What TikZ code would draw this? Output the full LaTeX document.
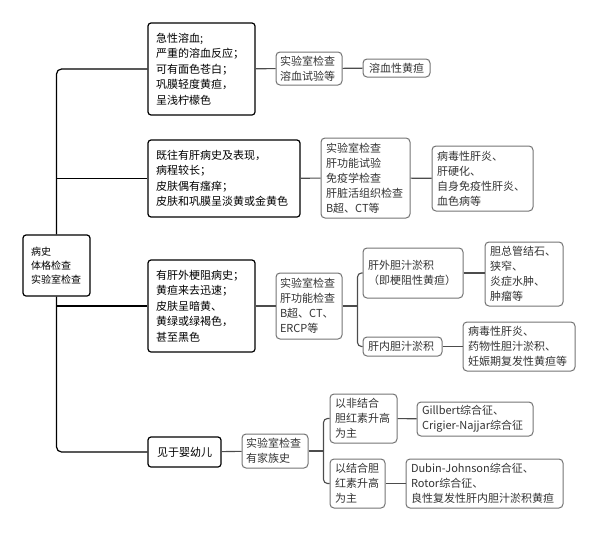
\documentclass[tikz,border=0pt]{standalone}
\usepackage{fontspec}
\setmainfont{Noto Sans CJK SC}
\begin{document}
\begin{tikzpicture}[x=1pt, y=-1pt,
        mainbox/.style={draw=black, line width=1.2pt, rounded corners=3pt, align=left,
            inner xsep=8pt, inner ysep=0pt, font=\fontsize{11}{15.5}\selectfont},
        subbox/.style={draw=black!55, line width=1pt, rounded corners=4pt, align=left,
            inner xsep=5pt, inner ysep=0pt, text=black!80, font=\fontsize{11}{15}\selectfont},
        link/.style={line width=1.2pt, black, rounded corners=5pt},
        sublink/.style={line width=1.1pt, black!70, rounded corners=4pt}]
        \useasboundingbox (0,0) rectangle (600,533);
        % Root
        \node[mainbox, inner xsep=8pt, text width=51pt, minimum height=61pt,
            font=\fontsize{10}{14}\selectfont] (root) at (56.5,265.5) {病史\\体格检查\\实验室检查};
        % Hemolytic branch
        \node[mainbox, text width=91pt, minimum height=92pt] (b1) at (201.5,69)
            {急性溶血;\\严重的溶血反应；\\可有面色苍白；\\巩膜轻度黄疸，\\呈浅柠檬色};
        \node[subbox, inner xsep=4pt, text width=58pt, minimum height=33pt] (b1x) at (309,68.5)
            {实验室检查\\溶血试验等};
        \node[subbox, align=center, text width=57pt, minimum height=18pt] (b1y) at (396.5,68)
            {溶血性黄疸};
        % Hepatocellular branch
        \node[mainbox, text width=136pt, minimum height=77pt] (b2) at (224,178.5)
            {既往有肝病史及表现，\\病程较长；\\皮肤偶有瘙痒；\\皮肤和巩膜呈淡黄或金黄色};
        \node[subbox, text width=79pt, minimum height=80pt] (b2x) at (365.5,178)
            {实验室检查\\肝功能试验\\免疫学检查\\肝脏活组织检查\\B超、CT等};
        \node[subbox, text width=91pt, minimum height=65pt] (b2y) at (482.5,178.5)
            {病毒性肝炎、\\肝硬化、\\自身免疫性肝炎、\\血色病等};
        % Cholestatic branch
        \node[mainbox, text width=91pt, minimum height=92pt] (b3) at (201.5,306)
            {有肝外梗阻病史；\\黄疸来去迅速；\\皮肤呈暗黄、\\黄绿或绿褐色，\\甚至黑色};
        \node[subbox, inner xsep=4pt, text width=58pt, minimum height=66pt] (b3x) at (309,306)
            {实验室检查\\肝功能检查\\B超、CT、\\ERCP等};
        \node[subbox, text width=90pt, minimum height=50pt] (b3c) at (413,273)
            {肝外胆汁淤积\\（即梗阻性黄疸）};
        \node[subbox, text width=68pt, minimum height=64pt] (b3d) at (524,274)
            {胆总管结石、\\狭窄、\\炎症水肿、\\肿瘤等};
        \node[subbox, text width=69pt, minimum height=19pt] (b3e) at (402.5,346.5)
            {肝内胆汁淤积};
        \node[subbox, text width=102pt, minimum height=49pt] (b3f) at (519,346.5)
            {病毒性肝炎、\\药物性胆汁淤积、\\妊娠期复发性黄疸等};
        % Infant branch
        \node[mainbox, align=center, text width=57pt, minimum height=30pt] (b4) at (184.5,452)
            {见于婴幼儿};
        \node[subbox, inner xsep=4pt, text width=58pt, minimum height=34pt] (b4x) at (275,451)
            {实验室检查\\有家族史};
        \node[subbox, text width=57pt, minimum height=49pt] (b4c) at (363.5,418.5)
            {以非结合\\胆红素升高\\为主};
        \node[subbox, text width=106pt, minimum height=34pt] (b4d) at (475,419)
            {Gillbert综合征、\\Crigier-Najjar综合征};
        \node[subbox, text width=45pt, minimum height=49pt] (b4e) at (357.5,483.5)
            {以结合胆\\红素升高\\为主};
        \node[subbox, text width=147pt, minimum height=49pt] (b4f) at (484.5,483.5)
            {Dubin-Johnson综合征、\\Rotor综合征、\\良性复发性肝内胆汁淤积黄疸};
        % Trunk
        \draw[link] (root.north) |- (b1.west);
        \draw[link] (root.south) |- (b4.west);
        \draw[link] (root.north |- b2.west) -- (b2.west);
        \draw[link] (root.south |- b3.west) -- (b3.west);
        % Second level
        \draw[sublink] (b1) -- (b1x);
        \draw[sublink] (b1x) -- (b1y);
        \draw[sublink] (b2) -- (b2x);
        \draw[sublink] (b2x) -- (b2y);
        \draw[sublink] (b3) -- (b3x);
        \path (b3x.east) ++(15,0) coordinate (j3);
        \draw[sublink] (b3x.east) -- (j3);
        \draw[sublink] (b3c.west) -| (j3) |- (b3e.west);
        \draw[sublink] (b3c) -- (b3c -| b3d.west);
        \draw[sublink] (b3e) -- (b3f);
        \draw[sublink] (b4) -- (b4x);
        \path (b4x.east) ++(15,0) coordinate (j4);
        \draw[sublink] (b4x.east) -- (j4);
        \draw[sublink] (b4c.west) -| (j4) |- (b4e.west);
        \draw[sublink] (b4c) -- (b4d);
        \draw[sublink] (b4e) -- (b4f);
    \end{tikzpicture}
\end{document}
